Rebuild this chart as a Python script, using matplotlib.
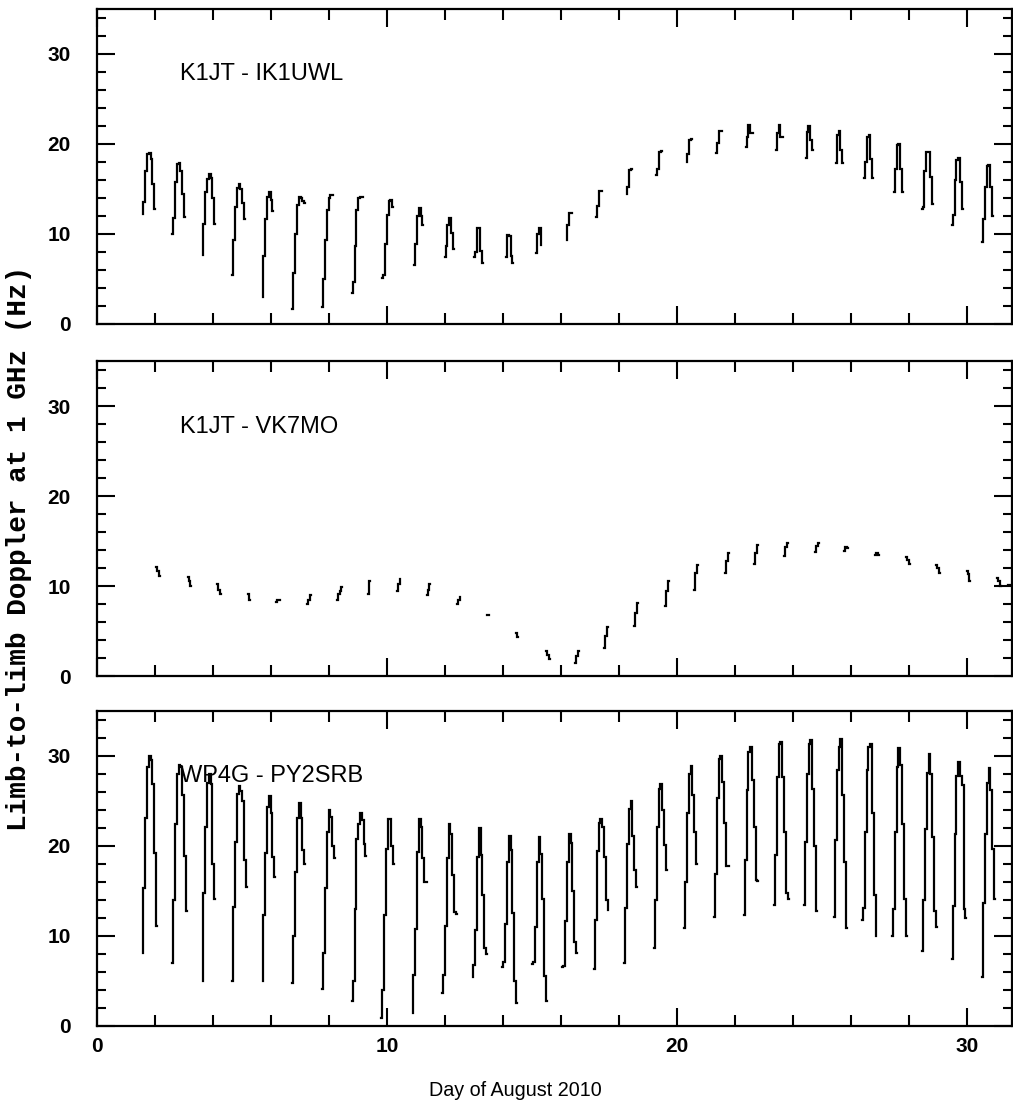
import numpy as np
import matplotlib
matplotlib.use("Agg")
import matplotlib.pyplot as plt
from matplotlib.ticker import MultipleLocator

# ---------------- data ----------------
# Each track: day of first step, then the successive Doppler levels (Hz)
ik1uwl_start = [1.60, 2.63, 3.67, 4.70, 5.74, 6.77, 7.80, 8.82, 9.87,
                10.97, 12.02, 13.03, 14.14, 15.17, 16.22, 17.25, 18.29, 19.32, 20.36,
                21.39, 22.40, 23.44, 24.47, 25.51, 26.48, 27.51, 28.47, 29.51, 30.55]
ik1uwl_levels = [
    [12.2, 13.5, 17.0, 18.8, 18.9, 18.3, 15.5, 12.7],
    [10.0, 11.7, 15.7, 17.7, 17.8, 17.0, 14.4, 11.8],
    [7.6, 11.1, 14.6, 16.1, 16.6, 16.2, 13.9, 11.1],
    [5.4, 9.3, 13.0, 15.1, 15.5, 15.0, 13.4, 11.6],
    [2.9, 7.5, 11.6, 14.1, 14.6, 13.7, 12.5],
    [1.6, 5.6, 9.9, 13.2, 14.1, 13.9, 13.6, 13.4],
    [1.8, 4.9, 9.3, 12.6, 14.0, 14.3, 14.3],
    [3.4, 4.6, 8.6, 12.6, 13.9, 14.1, 14.1],
    [5.1, 5.4, 8.8, 12.1, 13.6, 13.7, 13.0],
    [6.5, 8.8, 11.9, 12.8, 11.9, 10.9],
    [7.4, 8.6, 11.0, 11.7, 10.1, 8.3],
    [7.4, 7.9, 10.6, 10.6, 8.1, 6.7],
    [7.4, 9.8, 9.7, 7.5, 6.7],
    [7.8, 9.9, 10.6, 8.7],
    [9.3, 10.9, 12.3, 12.3],
    [11.8, 13.1, 14.7, 14.7],
    [14.4, 15.2, 17.1, 17.2],
    [16.5, 17.2, 19.1, 19.2],
    [18.0, 18.8, 20.4, 20.5],
    [18.9, 20.1, 21.4, 21.4],
    [19.6, 20.7, 22.1, 21.2, 21.2],
    [19.3, 21.2, 22.1, 20.7, 20.7],
    [18.4, 21.3, 21.9, 20.4, 19.3],
    [17.8, 21.0, 21.4, 19.3, 17.8],
    [16.2, 18.0, 20.7, 20.9, 18.3, 16.2],
    [14.6, 17.2, 19.8, 20.0, 17.2, 14.6],
    [12.7, 13.0, 16.9, 19.1, 19.1, 16.3, 13.3],
    [10.9, 12.1, 15.9, 18.2, 18.4, 15.7, 12.7],
    [9.1, 11.6, 15.2, 17.5, 17.6, 15.2, 12.0],
]

vk7mo_start = [2.07, 3.16, 4.17, 5.24, 6.22, 7.27, 8.30, 9.38, 10.37, 11.40,
               12.44, 13.49, 14.48, 15.52, 16.51, 17.53, 18.56, 19.62, 20.63, 21.69,
               22.70, 23.73, 24.79, 25.79, 26.86, 27.93, 28.97, 30.02, 31.07, 31.46]
vk7mo_levels = [
    [12.1, 11.7, 11.1], [11.0, 10.6, 10.0], [10.2, 9.6, 9.1], [9.1, 8.4],
    [8.2, 8.5, 8.5], [8.0, 8.5, 9.0], [8.4, 9.1, 9.5, 9.9], [9.1, 10.6],
    [9.4, 10.2, 10.8], [9.0, 9.6, 10.2], [8.0, 8.4, 8.8], [6.8, 6.8],
    [4.8, 4.3], [2.8, 2.3, 1.9], [1.4, 2.2, 2.8], [3.1, 4.4, 5.4],
    [5.6, 7.0, 8.1], [7.8, 9.4, 10.6], [9.6, 11.5, 12.3], [11.4, 12.8, 13.7],
    [12.5, 13.7, 14.6], [13.3, 14.3, 14.8], [13.8, 14.4, 14.8], [13.9, 14.3, 14.2],
    [13.4, 13.7, 13.4], [13.2, 12.9, 12.4], [12.3, 12.0, 11.5], [11.7, 11.3, 10.6],
    [10.9, 10.6, 10.0], [10.1, 10.1],
]

py2srb_start = [1.60, 2.63, 3.67, 4.70, 5.74, 6.77, 7.80, 8.82, 9.84,
                10.91, 11.94, 12.98, 14.01, 15.04, 16.08, 17.17, 18.21, 19.24, 20.28,
                21.31, 22.34, 23.38, 24.41, 25.45, 26.41, 27.45, 28.49, 29.51, 30.56]
py2srb_levels = [
    [8.1, 15.3, 23.1, 28.7, 29.9, 29.5, 26.8, 19.2, 11.1],
    [7.0, 13.9, 22.4, 28.0, 29.0, 28.7, 25.6, 18.8, 12.7],
    [5.0, 14.7, 22.1, 26.9, 27.9, 26.8, 18.0, 14.1],
    [5.0, 13.2, 20.4, 25.7, 26.6, 26.1, 25.0, 18.4, 15.4],
    [5.0, 12.3, 19.2, 24.3, 25.5, 23.6, 18.7, 16.5],
    [4.7, 9.9, 17.1, 23.1, 24.7, 23.1, 19.5, 17.9],
    [4.1, 8.1, 15.3, 21.5, 23.9, 23.2, 20.0, 18.6],
    [2.7, 5.0, 13.0, 20.7, 22.4, 23.6, 22.8, 20.2, 18.8],
    [0.8, 4.0, 12.3, 19.6, 22.9, 23.0, 19.9, 17.9],
    [1.4, 5.6, 10.7, 19.3, 22.9, 22.1, 18.6, 16.0, 16.0],
    [3.6, 5.6, 11.1, 18.6, 22.4, 21.3, 16.7, 12.6, 12.4],
    [5.4, 6.7, 10.6, 18.7, 21.9, 18.9, 14.5, 8.6, 7.9],
    [6.5, 7.1, 11.3, 18.2, 21.1, 19.5, 12.5, 4.9, 2.5],
    [6.8, 7.1, 11.0, 18.2, 20.9, 19.1, 14.1, 5.5, 2.7],
    [6.5, 6.6, 11.6, 18.2, 21.3, 20.3, 15.0, 9.3, 8.1],
    [6.3, 11.7, 19.4, 22.5, 22.9, 22.1, 18.7, 13.9, 12.8],
    [7.0, 13.1, 20.2, 24.1, 24.9, 21.1, 17.3, 15.4],
    [8.6, 13.9, 22.1, 26.3, 26.8, 24.0, 20.1, 17.3],
    [10.8, 15.9, 23.6, 28.0, 28.8, 25.6, 21.5, 17.9],
    [12.1, 16.8, 25.3, 29.6, 30.0, 27.1, 22.5, 17.7, 17.7],
    [12.3, 18.4, 26.2, 30.4, 31.0, 27.3, 22.1, 16.2, 16.1],
    [13.4, 19.0, 27.6, 31.3, 31.5, 27.6, 21.5, 14.7, 14.1],
    [13.4, 20.4, 27.9, 31.3, 31.7, 26.3, 19.9, 12.7],
    [12.1, 20.6, 28.4, 31.0, 31.8, 25.6, 18.2, 10.8],
    [11.7, 13.1, 21.5, 28.4, 31.0, 31.3, 23.6, 14.5, 9.9],
    [10.0, 13.0, 21.5, 28.7, 30.8, 29.0, 22.4, 14.1, 10.0],
    [8.3, 13.9, 21.8, 28.1, 30.2, 28.0, 21.0, 12.7, 11.0],
    [7.4, 13.3, 21.3, 27.7, 29.3, 27.7, 26.7, 12.9, 11.9],
    [5.4, 13.6, 21.3, 26.9, 28.6, 26.2, 19.6, 14.1],
]

panel_titles = ["K1JT - IK1UWL", "K1JT - VK7MO", "WP4G - PY2SRB"]
xtick_labels = ["0", "10", "20", "30"]
ytick_labels = ["0", "10", "20", "30"]
step_days = 0.062

# ---------------- figure ----------------
W, H = 1013, 1111
fig = plt.figure(figsize=(W / 100, H / 100), dpi=100)
left = 97 / W
width = 915 / W
ph = 315 / H
bottoms = [(H - 323.5) / H, (H - 676) / H, (H - 1025.5) / H]

panels = [(ik1uwl_start, ik1uwl_levels), (vk7mo_start, vk7mo_levels),
          (py2srb_start, py2srb_levels)]

tick_font = dict(family="Liberation Sans", weight="bold", size=15)

for k, (starts, levels) in enumerate(panels):
    ax = fig.add_axes([left, bottoms[k], width, ph])
    for s, lev in zip(starts, levels):
        t = s + (np.arange(len(lev)) - 0.5) * step_days
        ax.plot(t, lev, drawstyle="steps-mid", color="black", lw=1.6,
                solid_joinstyle="miter")
    ax.set_xlim(0, 31.55)
    ax.set_ylim(0, 35)
    ax.xaxis.set_major_locator(MultipleLocator(10))
    ax.xaxis.set_minor_locator(MultipleLocator(2))
    ax.yaxis.set_major_locator(MultipleLocator(10))
    ax.yaxis.set_minor_locator(MultipleLocator(2))
    ax.tick_params(which="both", direction="in", top=True, right=True,
                   width=1.5, colors="black")
    ax.tick_params(which="major", length=13)
    ax.tick_params(axis="x", which="minor", length=8)
    ax.tick_params(axis="y", which="minor", length=6.5)
    ax.tick_params(axis="y", pad=19)
    ax.tick_params(axis="x", pad=8)
    ax.set_yticks([0, 10, 20, 30])
    ax.set_yticklabels(ytick_labels, fontdict=tick_font)
    ax.set_xticks([0, 10, 20, 30])
    if k == 2:
        ax.set_xticklabels(xtick_labels, fontdict=tick_font)
    else:
        ax.set_xticklabels([])
    for sp in ax.spines.values():
        sp.set_linewidth(1.6)
    ax.text(2.86, 27.7, panel_titles[k], ha="left", va="center",
            family="Liberation Sans", fontsize=17)

fig.text(515 / W, 1 - 1090 / H, "Day of August 2010", ha="center", va="center",
         family="Liberation Sans", fontsize=14.2)
fig.text(19 / W, 1 - 548 / H, "Limb-to-limb Doppler at 1 GHz (Hz)", rotation=90,
         ha="center", va="center", family="Liberation Mono", weight="bold",
         fontsize=20)

fig.savefig("out.png", dpi=100)
